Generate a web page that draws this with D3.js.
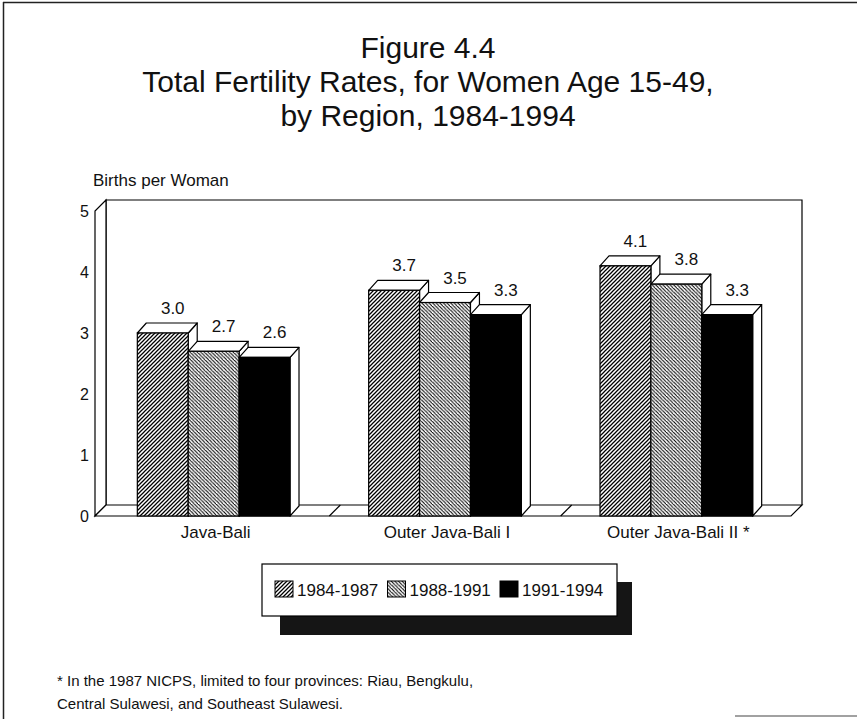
<!DOCTYPE html>
<html>
<head>
<meta charset="utf-8">
<script src="https://cdn.jsdelivr.net/npm/d3@7"></script>
<style>
  html, body { margin: 0; padding: 0; background: #fff; }
  svg { display: block; font-family: "Liberation Sans", Arial, Helvetica, sans-serif; }
</style>
</head>
<body>
<svg id="chart" width="857" height="719"></svg>
<script>
// ---- data ----
const categories = ["Java-Bali", "Outer Java-Bali I", "Outer Java-Bali II *"];
const seriesNames = ["1984-1987", "1988-1991", "1991-1994"];
const values1984 = [3.0, 3.7, 4.1];
const values1988 = [2.7, 3.5, 3.8];
const values1991 = [2.6, 3.3, 3.3];
const yTicks = [0, 1, 2, 3, 4, 5];
const titleLines = ["Figure 4.4", "Total Fertility Rates, for Women Age 15-49,", "by Region, 1984-1994"];
const yAxisTitle = "Births per Woman";
const footnoteLines = ["* In the 1987 NICPS, limited to four provinces: Riau, Bengkulu,",
                       "Central Sulawesi, and Southeast Sulawesi."];

const seriesValues = [values1984, values1988, values1991];
const fills = ["url(#hatchA)", "url(#hatchB)", "#000"];

const svg = d3.select("#chart");
const W = 857, H = 719;

// ---- patterns ----
const defs = svg.append("defs");
const pA = defs.append("pattern").attr("id", "hatchA").attr("patternUnits", "userSpaceOnUse")
  .attr("width", 4).attr("height", 4);
pA.append("rect").attr("width", 4).attr("height", 4).attr("fill", "#fff");
pA.append("path").attr("d", "M-1,1 l2,-2 M0,4 l4,-4 M3,5 l2,-2")
  .attr("stroke", "#000").attr("stroke-width", 1.25);
const pB = defs.append("pattern").attr("id", "hatchB").attr("patternUnits", "userSpaceOnUse")
  .attr("width", 3.6).attr("height", 3.6);
pB.append("rect").attr("width", 3.6).attr("height", 3.6).attr("fill", "#fff");
pB.append("path").attr("d", "M-1,-1 l2,2 M0,0 l3.6,3.6 M2.6,-1 l2,2")
  .attr("stroke", "#000").attr("stroke-width", 1.1);

// ---- page border ----
svg.append("line").attr("x1", 3).attr("x2", W).attr("y1", 2.5).attr("y2", 2.5)
  .attr("stroke", "#222").attr("stroke-width", 1.5);
svg.append("line").attr("x1", 3.5).attr("x2", 3.5).attr("y1", 2).attr("y2", H)
  .attr("stroke", "#222").attr("stroke-width", 1.5);
svg.append("line").attr("x1", 735).attr("x2", W).attr("y1", 716).attr("y2", 716)
  .attr("stroke", "#444").attr("stroke-width", 1.2);

// ---- title ----
svg.append("g").selectAll("text").data(titleLines).join("text")
  .attr("x", 428).attr("y", (d, i) => 58 + i * 34)
  .attr("text-anchor", "middle").attr("font-size", 30).attr("fill", "#111")
  .text(d => d);

// ---- scales ----
const floorX0 = 95, floorX1 = 791;
const y = d3.scaleLinear().domain([0, 5]).range([516, 211]);
const x0 = d3.scaleBand().domain(categories).range([98, 792]).paddingInner(0.34).paddingOuter(0.17);
const x1 = d3.scaleBand().domain(seriesNames).range([0, x0.bandwidth()]).padding(0);
const WD = { dx: 11, dy: -11 };   // wall depth
const BD = { dx: 9, dy: -10 };    // bar depth

const line = d3.line();
const stroke = "#000";

// back wall
svg.append("path")
  .attr("d", line([[floorX0 + WD.dx, y(0) + WD.dy], [floorX0 + WD.dx, y(5) + WD.dy],
                   [floorX1 + WD.dx, y(5) + WD.dy], [floorX1 + WD.dx, y(0) + WD.dy]]))
  .attr("fill", "#fff").attr("stroke", stroke).attr("stroke-width", 1.2);
// left wall
svg.append("path")
  .attr("d", line([[floorX0, y(0)], [floorX0, y(5)], [floorX0 + WD.dx, y(5) + WD.dy],
                   [floorX0 + WD.dx, y(0) + WD.dy]]) + "Z")
  .attr("fill", "#fff").attr("stroke", stroke).attr("stroke-width", 1.2);
// floor
svg.append("path")
  .attr("d", line([[floorX0, y(0)], [floorX1, y(0)], [floorX1 + WD.dx, y(0) + WD.dy],
                   [floorX0 + WD.dx, y(0) + WD.dy]]) + "Z")
  .attr("fill", "#fff").attr("stroke", stroke).attr("stroke-width", 1.2);
// floor tile diagonals at group boundaries
const boundaries = categories.slice(1).map(c => x0(c) - x0.step() * x0.paddingInner() / 2);
svg.append("g").selectAll("line").data(boundaries).join("line")
  .attr("x1", d => d).attr("y1", y(0)).attr("x2", d => d + WD.dx).attr("y2", y(0) + WD.dy)
  .attr("stroke", stroke).attr("stroke-width", 1.2);

// y tick labels
svg.append("g").selectAll("text").data(yTicks).join("text")
  .attr("x", 89).attr("y", d => y(d)).attr("dy", "0.36em")
  .attr("text-anchor", "end").attr("font-size", 16).attr("fill", "#111")
  .text(d => d);
// y axis title
svg.append("text").attr("x", 93).attr("y", 186).attr("font-size", 17).attr("fill", "#111")
  .text(yAxisTitle);

// ---- bars ----
const bars = [];
categories.forEach((c, ci) => {
  seriesNames.forEach((s, si) => {
    bars.push({ cat: c, series: s, si, v: seriesValues[si][ci] });
  });
});
const barG = svg.append("g");
bars.forEach(b => {
  const bx = x0(b.cat) + x1(b.series), bw = x1.bandwidth();
  const yt = y(b.v), yb = y(0);
  const g = barG.append("g");
  // right side
  g.append("path").attr("d", line([[bx + bw, yt], [bx + bw + BD.dx, yt + BD.dy],
      [bx + bw + BD.dx, yb + BD.dy], [bx + bw, yb]]) + "Z")
    .attr("fill", "#fff").attr("stroke", stroke).attr("stroke-width", 1.2).attr("stroke-linejoin", "round");
  // top
  g.append("path").attr("d", line([[bx, yt], [bx + BD.dx, yt + BD.dy],
      [bx + bw + BD.dx, yt + BD.dy], [bx + bw, yt]]) + "Z")
    .attr("fill", "#fff").attr("stroke", stroke).attr("stroke-width", 1.2).attr("stroke-linejoin", "round");
  // front
  g.append("rect").attr("x", bx).attr("y", yt).attr("width", bw).attr("height", yb - yt)
    .attr("fill", fills[b.si]).attr("stroke", stroke).attr("stroke-width", 1.2);
});
// value labels
svg.append("g").selectAll("text").data(bars).join("text")
  .attr("x", d => x0(d.cat) + x1(d.series) + x1.bandwidth() / 2 + BD.dx + 1)
  .attr("y", d => y(d.v) + BD.dy - 9)
  .attr("text-anchor", "middle").attr("font-size", 17).attr("fill", "#111")
  .text(d => d.v.toFixed(1));

// category labels
svg.append("g").selectAll("text").data(categories).join("text")
  .attr("x", d => x0(d) + x0.bandwidth() / 2 + 2).attr("y", 538)
  .attr("text-anchor", "middle").attr("font-size", 17).attr("fill", "#111")
  .text(d => d);

// ---- legend ----
const lg = { x: 262, y: 564, w: 355, h: 52 };
svg.append("rect").attr("x", lg.x + 18).attr("y", lg.y + 18).attr("width", lg.w - 3).attr("height", lg.h + 1)
  .attr("fill", "#151515");
svg.append("rect").attr("x", lg.x).attr("y", lg.y).attr("width", lg.w).attr("height", lg.h)
  .attr("fill", "#fff").attr("stroke", "#000").attr("stroke-width", 1.2);
const li = svg.append("g").selectAll("g").data(seriesNames).join("g")
  .attr("transform", (d, i) => `translate(${lg.x + 13 + i * 112.5},${lg.y + 17})`);
li.append("rect").attr("width", 18).attr("height", 16)
  .attr("fill", (d, i) => fills[i]).attr("stroke", "#000").attr("stroke-width", 1);
li.append("text").attr("x", 22).attr("y", 15).attr("font-size", 17).attr("fill", "#111")
  .text(d => d);

// ---- footnote ----
svg.append("g").selectAll("text").data(footnoteLines).join("text")
  .attr("x", 57).attr("y", (d, i) => 686 + i * 23)
  .attr("font-size", 15).attr("fill", "#111")
  .text(d => d);
</script>
</body>
</html>
